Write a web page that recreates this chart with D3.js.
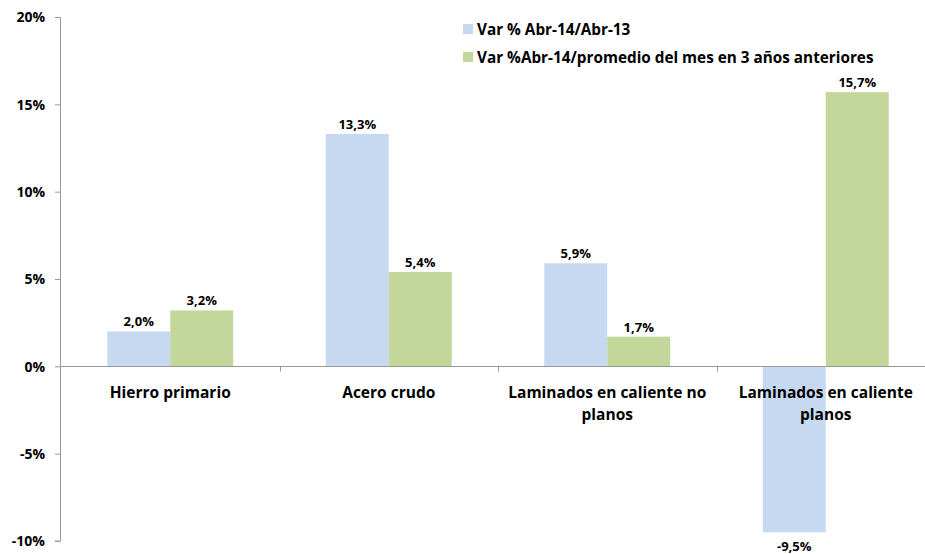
<!DOCTYPE html>
<html><head><meta charset="utf-8">
<script src="https://cdn.jsdelivr.net/npm/d3@7"></script>
<style>body{margin:0;background:#fff;} svg{display:block;font-family:"Open Sans", sans-serif;font-weight:bold;}</style>
</head><body>
<svg id="c" width="925" height="554"></svg>
<script>
const categories = ["Hierro primario","Acero crudo","Laminados en caliente no planos","Laminados en caliente planos"];
const seriesNames = ["Var % Abr-14/Abr-13","Var %Abr-14/promedio del mes en 3 años anteriores"];
const serieA = [2.0, 13.3, 5.9, -9.5];
const serieB = [3.2, 5.4, 1.7, 15.7];
const yTicks = [-10,-5,0,5,10,15,20];
const colors = ["#c6d9f1","#c4d79b"];

const svg = d3.select("#c");
const y = d3.scaleLinear().domain([-10,20]).range([541,17]);
const x = d3.scaleBand().domain(categories).range([61,935]).padding(0);
const xs = d3.scaleBand().domain([0,1]).range([0,x.bandwidth()]).paddingInner(0).paddingOuter(0.734);
const fmt = v => d3.format(".1f")(v).replace(".",",").replace("\u2212","-")+"%";

// bars
const series = [serieA, serieB];
series.forEach((vals,si)=>{
  svg.append("g").selectAll("rect").data(vals).join("rect")
    .attr("x",(d,i)=>x(categories[i])+xs(si))
    .attr("width",xs.bandwidth())
    .attr("y",d=>y(Math.max(0,d)))
    .attr("height",d=>Math.abs(y(d)-y(0)))
    .attr("fill",colors[si]);
  svg.append("g").selectAll("text").data(vals).join("text")
    .attr("x",(d,i)=>x(categories[i])+xs(si)+xs.bandwidth()/2)
    .attr("y",d=>d>=0? y(d)-5 : y(d)+19)
    .attr("text-anchor","middle").attr("font-size",13).attr("fill","#000")
    .text(d=>fmt(d));
});

// y axis
const ya = svg.append("g").attr("transform","translate(60,0)")
  .call(d3.axisLeft(y).tickValues(yTicks).tickSize(5).tickFormat(d=>d+"%"));
ya.select(".domain").attr("stroke","#999").attr("d","M-5,17.5H0.5V541H-5");
ya.selectAll(".tick line").attr("stroke","#999");
ya.selectAll(".tick text").attr("font-size",14).attr("font-family","'Open Sans', sans-serif").attr("font-weight","bold").attr("fill","#000").attr("x",-15).attr("dy","0.35em");

// x axis line at zero
const y0 = Math.round(y(0))+0.5;
svg.append("line").attr("x1",60).attr("x2",935).attr("y1",y0).attr("y2",y0).attr("stroke","#999");
svg.append("g").selectAll("line").data(categories.slice(1)).join("line")
  .attr("x1",d=>Math.round(x(d))+0.5).attr("x2",d=>Math.round(x(d))+0.5)
  .attr("y1",y0).attr("y2",y0+5).attr("stroke","#999");

// category labels (wrapped)
svg.append("g").selectAll("text").data(categories).join("text")
  .attr("x",d=>x(d)+x.bandwidth()/2).attr("y",398)
  .attr("text-anchor","middle").attr("font-size",15.5).attr("fill","#000")
  .each(function(d){
    const t = d3.select(this);
    const words = d.split(" ");
    let line=[], lines=[];
    const tmp = t.append("tspan");
    words.forEach(w=>{
      line.push(w); tmp.text(line.join(" "));
      if (tmp.node().getComputedTextLength()>208 && line.length>1){ line.pop(); lines.push(line.join(" ")); line=[w]; }
    });
    lines.push(line.join(" "));
    tmp.remove();
    lines.forEach((l,i)=>t.append("tspan").attr("x",x(d)+x.bandwidth()/2).attr("dy",i?22:0).text(l));
  });

// legend
const lg = svg.append("g");
seriesNames.forEach((n,i)=>{
  lg.append("rect").attr("x",463).attr("y",24+i*28).attr("width",10).attr("height",10).attr("fill",colors[i]);
  lg.append("text").attr("x",477).attr("y",34.5+i*28).attr("font-size",15.3).attr("fill","#000").text(n);
});
</script>
</body></html>
